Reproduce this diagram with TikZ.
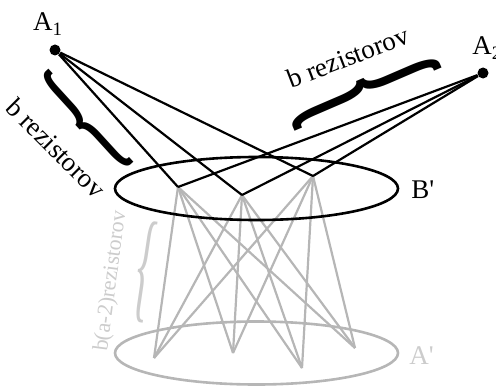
\documentclass[tikz,border=0pt]{standalone}
\usepackage{fontspec}
\setmainfont{Liberation Serif}
\usepackage{graphicx}
\usetikzlibrary{shapes.geometric}
\definecolor{wiregray}{RGB}{182,182,182}
\definecolor{labelgray}{RGB}{204,204,204}

\begin{document}
\begin{tikzpicture}[x=0.5pt, y=-0.5pt,
  dot/.style={circle, fill=black, inner sep=0pt, minimum size=5.5pt},
  wire/.style={line width=1.1pt},
  gwire/.style={line width=1.1pt, wiregray},
  ring/.style={line width=1.3pt},
  lbl/.style={font=\fontsize{13.5}{16}\selectfont, inner sep=0pt},
  glbl/.style={font=\fontsize{11}{13}\selectfont, text=labelgray, inner sep=0pt},
  brc/.style={inner sep=0pt, font=\bfseries}
]
  \useasboundingbox (0,0) rectangle (496,385);

  % lower set A'
  \coordinate (ac) at (256.5,353);
  \draw[ring, wiregray] (ac) ellipse [x radius=70.75pt, y radius=15.75pt];
  \coordinate (p1) at (154,358);
  \coordinate (p2) at (233,353);
  \coordinate (p3) at (302,368);
  \coordinate (p4) at (355,348);
  \node[lbl, text=labelgray, anchor=west] (alab) at (409,356) {A\textquotesingle};

  % set B'
  \coordinate (b1) at (178,187);
  \coordinate (b2) at (242,195);
  \coordinate (b3) at (313,176);
  \foreach \b in {b1,b2,b3}
    \foreach \p in {p1,p2,p3,p4}
      \draw[gwire] (\b) -- (\p);

  \coordinate (bc) at (256.5,188.5);
  \draw[ring] (bc) ellipse [x radius=70.75pt, y radius=15.75pt];
  \node[lbl, anchor=west] (blab) at (411,190) {B\textquotesingle};

  % the two outer nodes
  \node[dot] (a1) at (55,50) {};
  \node[dot] (a2) at (483,73) {};
  \node[lbl] (a1lab) at (48,24) {A\textsubscript{1}};
  \node[lbl, anchor=west] (a2lab) at (472,48) {A\textsubscript{2}};
  \foreach \b in {b1,b2,b3} {
    \draw[wire] (a1) -- (\b);
    \draw[wire] (a2) -- (\b);
  }

  % braces and counts
  \node[brc, rotate=42.4] (br1) at (85,122) {\resizebox*{11pt}{63pt}{\{}};
  \node[lbl, rotate=-45] (t1) at (56,148) {b rezistorov};
  \node[brc, rotate=-66.7] (br2) at (364,90) {\resizebox*{13pt}{80pt}{\{}};
  \node[lbl, rotate=21] (t2) at (348,57) {b rezistorov};
  \node[brc, font=\mdseries, rotate=-8.4, text=labelgray] (br3) at (144,272) {\resizebox*{10pt}{51pt}{\{}};
  \node[glbl, rotate=82.5] (t3) at (111,281) {b(a-2)rezistorov};

\end{tikzpicture}
\end{document}
